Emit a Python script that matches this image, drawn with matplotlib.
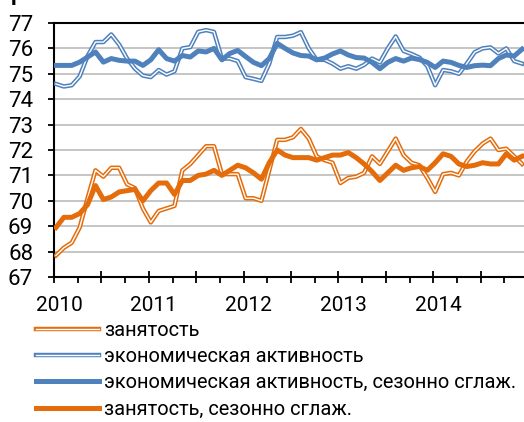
import numpy as np
import matplotlib
matplotlib.use('Agg')
import matplotlib.pyplot as plt
from matplotlib.lines import Line2D
from matplotlib.legend_handler import HandlerTuple
from matplotlib.transforms import ScaledTranslation

plt.rcParams['font.family'] = ['Roboto', 'DejaVu Sans']

years = ['2010', '2011', '2012', '2013', '2014']

# monthly values, Jan 2010 - Dec 2014
employment = [67.85, 68.15, 68.35, 68.95, 70.1, 71.2, 70.95, 71.3, 71.3, 70.65, 70.5, 69.7,
              69.15, 69.6, 69.7, 69.8, 71.2, 71.45, 71.8, 72.15, 72.15, 71.05, 71.05, 71.05,
              70.1, 70.1, 70.0, 71.2, 72.4, 72.4, 72.5, 72.83, 72.45, 71.75, 71.6, 71.5,
              70.7, 70.9, 70.95, 71.1, 71.75, 71.45, 71.95, 72.45, 71.8, 71.5, 71.4, 70.9,
              70.35, 71.05, 71.1, 71.0, 71.55, 71.95, 72.25, 72.45, 72.0, 72.05, 71.75, 71.45]
employment_sa = [68.95, 69.35, 69.35, 69.5, 69.85, 70.6, 70.05, 70.15, 70.35, 70.4, 70.45, 70.0,
                 70.4, 70.7, 70.7, 70.25, 70.8, 70.8, 71.0, 71.05, 71.2, 71.0, 71.2, 71.4,
                 71.3, 71.1, 70.85, 71.5, 72.0, 71.8, 71.7, 71.7, 71.7, 71.6, 71.7, 71.8,
                 71.8, 71.9, 71.7, 71.45, 71.15, 70.8, 71.1, 71.4, 71.2, 71.3, 71.35, 71.2,
                 71.5, 71.85, 71.75, 71.45, 71.35, 71.4, 71.5, 71.45, 71.45, 71.85, 71.6, 71.75]
activity = [74.6, 74.5, 74.55, 74.9, 75.7, 76.25, 76.25, 76.55, 76.15, 75.6, 75.2, 74.93,
            74.87, 75.15, 74.97, 75.1, 76.0, 76.05, 76.65, 76.72, 76.65, 75.6, 75.6, 75.5,
            74.87, 74.8, 74.72, 75.4, 76.45, 76.45, 76.5, 76.64, 76.0, 75.55, 75.55, 75.4,
            75.2, 75.3, 75.2, 75.35, 75.6, 75.45, 76.0, 76.47, 75.9, 75.78, 75.64, 75.3,
            74.55, 75.15, 75.1, 75.0, 75.4, 75.85, 76.0, 76.04, 75.8, 76.0, 75.5, 75.4]
activity_sa = [75.33, 75.33, 75.33, 75.46, 75.66, 75.86, 75.46, 75.6, 75.53, 75.5, 75.5, 75.33,
               75.55, 75.95, 75.6, 75.5, 75.72, 75.66, 75.9, 75.86, 76.0, 75.55, 75.8, 75.92,
               75.68, 75.45, 75.32, 75.6, 76.2, 76.0, 75.82, 75.72, 75.7, 75.55, 75.62, 75.78,
               75.9, 75.74, 75.64, 75.62, 75.45, 75.2, 75.45, 75.6, 75.5, 75.62, 75.56, 75.45,
               75.25, 75.5, 75.45, 75.33, 75.25, 75.32, 75.34, 75.32, 75.6, 75.74, 75.7, 75.97]

labels = ['занятость', 'экономическая активность',
          'экономическая активность, сезонно сглаж.', 'занятость, сезонно сглаж.']

orange = '#E46C0A'
blue = '#4F81BD'

x = np.arange(len(employment)) + 0.25

fig = plt.figure(figsize=(5.24, 4.22), dpi=100)
ax = fig.add_axes([54 / 524, 145 / 422, 476 / 524, 254 / 422])

# raw series drawn as hollow double lines
ax.plot(x, employment, color=orange, lw=3.2, zorder=3)
ax.plot(x, employment, color='white', lw=1.0, zorder=3)
ax.plot(x, activity, color=blue, lw=3.2, zorder=3)
ax.plot(x, activity, color='white', lw=1.0, zorder=3)
ax.plot(x, activity_sa, color=blue, lw=3.6, zorder=4)
ax.plot(x, employment_sa, color=orange, lw=3.6, zorder=4)

ax.set_xlim(0, 60.25)
ax.set_ylim(67, 77)
ax.set_yticks(range(67, 78))
ax.yaxis.grid(True, color='#C0C0C0', lw=1.3)
ax.set_axisbelow(True)

ax.set_xticks(range(0, 61, 6))
ax.set_xticklabels([years[i // 12] if i % 12 == 0 and i // 12 < len(years) else '' for i in range(0, 61, 6)])
ax.set_xticks(range(3, 60, 6), minor=True)
ax.tick_params(axis='x', which='major', direction='inout', length=9, width=1.3, pad=9, labelsize=15)
ax.tick_params(axis='x', which='minor', direction='out', length=4, width=1.3)
ax.tick_params(axis='y', direction='out', length=4, width=1.3, pad=11, labelsize=16)
for lab in ax.get_xticklabels():
    lab.set_transform(lab.get_transform() + ScaledTranslation(5 / 100, 0, fig.dpi_scale_trans))

for s in ['left', 'bottom', 'top']:
    ax.spines[s].set_linewidth(1.5)
    ax.spines[s].set_color('black')
ax.spines['right'].set_visible(False)

# cut-off title fragment at the top
fig.text(0.02, 1.0, 'р', fontsize=16, fontweight='bold', va='baseline')

h_emp = (Line2D([], [], color=orange, lw=3.2), Line2D([], [], color='white', lw=1.0))
h_act = (Line2D([], [], color=blue, lw=3.2), Line2D([], [], color='white', lw=1.0))
h_act_sa = Line2D([], [], color=blue, lw=3.6)
h_emp_sa = Line2D([], [], color=orange, lw=3.6)
fig.legend([h_emp, h_act, h_act_sa, h_emp_sa], labels,
           handler_map={tuple: HandlerTuple(ndivide=1, pad=0)},
           loc='upper left', bbox_to_anchor=(36 / 524, 1 - 321 / 422),
           frameon=False, fontsize=14.4, handlelength=3.15, handletextpad=0.25,
           labelspacing=0.36, borderpad=0, borderaxespad=0)

fig.savefig('out.png', dpi=100)
